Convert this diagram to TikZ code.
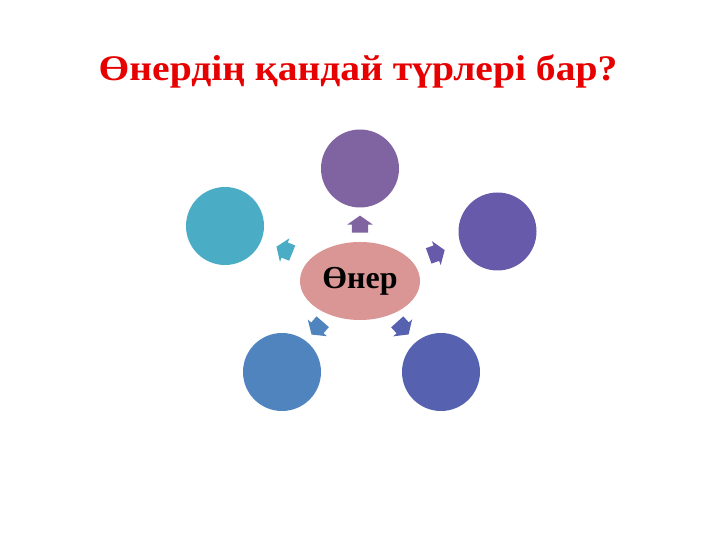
\documentclass[tikz,border=0pt]{standalone}
\usepackage{fontspec}
\setmainfont{Liberation Serif}
\usetikzlibrary{shapes.geometric,shapes.arrows}
\definecolor{titlered}{RGB}{230,0,0}
\definecolor{centrepink}{RGB}{217,150,148}
\definecolor{artone}{RGB}{128,100,162}
\definecolor{arttwo}{RGB}{104,90,170}
\definecolor{artthree}{RGB}{86,98,176}
\definecolor{artfour}{RGB}{79,132,190}
\definecolor{artfive}{RGB}{75,172,198}
\tikzset{
  ball/.style={circle, minimum size=78pt, inner sep=0pt},
  blockarrow/.style={single arrow, minimum height=17pt, inner xsep=0pt, inner ysep=8pt,
    single arrow head extend=4.5pt, single arrow tip angle=110}
}
\begin{document}
\begin{tikzpicture}[x=1pt,y=1pt]
\useasboundingbox (0,0) rectangle (720,540);

\node[anchor=base, text=titlered, xscale=1.1, font=\fontsize{36}{40}\selectfont\bfseries] (title) at (358,459) {Өнердің қандай түрлері бар?};

\node[ellipse, fill=centrepink, minimum width=120pt, minimum height=78pt, inner sep=0pt,
  font=\fontsize{32}{36}\selectfont\bfseries] (oner) at (360,259) {Өнер};

\node[ball, fill=artone] (one) at (360,371.5) {};
\node[ball, fill=arttwo] (two) at (497.5,308.5) {};
\node[ball, fill=artthree] (three) at (441,168) {};
\node[ball, fill=artfour] (four) at (282,168) {};
\node[ball, fill=artfive] (five) at (225,314) {};

\node[blockarrow, fill=artone, rotate=90] (toone) at (360,313) {};
\node[blockarrow, fill=arttwo, rotate=20] (totwo) at (434,286) {};
\node[blockarrow, fill=artthree, rotate=-48] (tothree) at (401,214) {};
\node[blockarrow, fill=artfour, rotate=229] (tofour) at (319,214) {};
\node[blockarrow, fill=artfive, rotate=158] (tofive) at (287,289) {};
\end{tikzpicture}
\end{document}
